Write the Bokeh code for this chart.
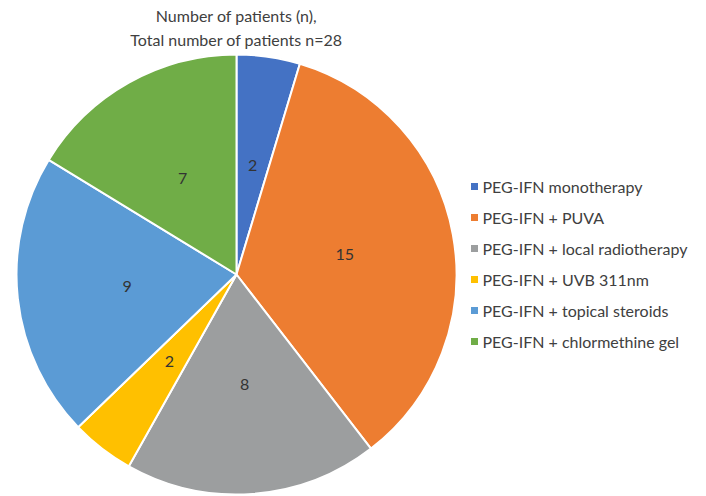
import math
from bokeh.plotting import figure
from bokeh.models import ColumnDataSource, Range1d
from bokeh.core.properties import value
from bokeh.embed import file_html
from bokeh.resources import INLINE

categories = ["PEG-IFN monotherapy", "PEG-IFN + PUVA", "PEG-IFN + local radiotherapy",
              "PEG-IFN + UVB 311nm", "PEG-IFN + topical steroids", "PEG-IFN + chlormethine gel"]
counts = [2, 15, 8, 2, 9, 7]
colors = ["#4472C4", "#ED7D31", "#9C9E9F", "#FFC000", "#5B9BD5", "#70AD47"]
title_lines = ["Number of patients (n),", "Total number of patients n=28"]

W, H = 706, 496
FONT = "Lato"

p = figure(width=W, height=H, x_range=Range1d(0, W), y_range=Range1d(0, H),
           output_backend="svg", toolbar_location=None, min_border=0)
p.axis.visible = False
p.grid.visible = False
p.outline_line_color = None
p.background_fill_color = "white"

def X(x):
    return x

def Y(y):  # picture pixel (top-down) -> data
    return H - y

cx, cy, r = X(236), Y(274), 220
total = sum(counts)
starts, ends, lx, ly = [], [], [], []
cum = 0.0
for v in counts:
    a0 = math.pi / 2 - 2 * math.pi * cum / total
    a1 = math.pi / 2 - 2 * math.pi * (cum + v) / total
    starts.append(a0)
    ends.append(a1)
    mid = (a0 + a1) / 2
    lx.append(cx + 0.5 * r * math.cos(mid))
    ly.append(cy + 0.5 * r * math.sin(mid))
    cum += v

src = ColumnDataSource(dict(start=starts, end=ends, color=colors,
                            lx=lx, ly=ly, txt=[str(c) for c in counts],
                            cat=categories))
p.wedge(x=cx, y=cy, radius=r, start_angle="start", end_angle="end",
        direction="clock", fill_color="color", line_color="white",
        line_width=2, source=src)
p.text(x="lx", y="ly", text="txt", source=src, text_font=value(FONT),
       text_font_size="16px", text_color="#333333", text_align="center",
       text_baseline="middle")

# title
p.text(x=[cx, cx], y=[Y(15), Y(39)], text=title_lines, text_font=value(FONT),
       text_font_size="16px", text_color="#404040", text_align="center",
       text_baseline="middle")

# legend
ly0, dy = 186, 31
leg_y = [Y(ly0 + i * dy) for i in range(len(categories))]
p.rect(x=[X(474)] * len(categories), y=leg_y, width=7, height=7,
       fill_color=colors, line_color=None)
p.text(x=[X(482)] * len(categories), y=leg_y, text=categories, text_font=value(FONT),
       text_font_size="16px", text_color="#404040", text_align="left",
       text_baseline="middle")

open("out.html", "w").write(file_html(p, INLINE))
